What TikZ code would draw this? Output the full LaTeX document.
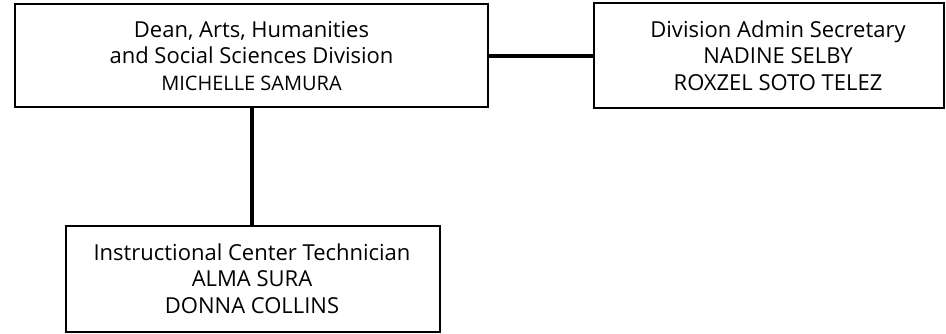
\documentclass[tikz,border=0pt]{standalone}
\usepackage{fontspec}
\setmainfont{Open Sans}
\usepackage{tikz}
\usetikzlibrary{positioning}
\tikzset{every node/.style={font=\fontsize{22}{26.5}\selectfont}}

\begin{document}
\begin{tikzpicture}[x=1pt, y=-1pt,
  box/.style={draw, line width=1.2pt, rectangle, inner sep=0pt},
  txt/.style={align=center, inner sep=0pt},
  link/.style={line width=4pt}
% sizes are in pixels of the chart, y runs downwards
]
\useasboundingbox (0,0) rectangle (946,333);

\node[box, minimum width=473pt, minimum height=103pt] (dean) at (251.5,55.5) {};
\node[box, minimum width=350pt, minimum height=105pt] (sec) at (769,55.5) {};
\node[box, minimum width=374pt, minimum height=106pt] (tech) at (253,279) {};

\path (dean.center) ++ (0,0.5) node[txt] (deantxt) {Dean, Arts, Humanities\\
and Social Sciences Division\\
{\fontsize{20}{26.5}\selectfont MICHELLE SAMURA}};
\path (sec.center) ++ (9,0) node[txt] (sectxt) {Division Admin Secretary\\
NADINE SELBY\\
ROXZEL SOTO TELEZ};
\path (tech.center) ++ (-1,-0.5) node[txt] (techtxt) {Instructional Center Technician\\
ALMA SURA\\
DONNA COLLINS};

\draw[link] (dean.east) -- (sec.west);
\draw[link] (dean.south) -- (dean.south |- tech.north);
\end{tikzpicture}
\end{document}
